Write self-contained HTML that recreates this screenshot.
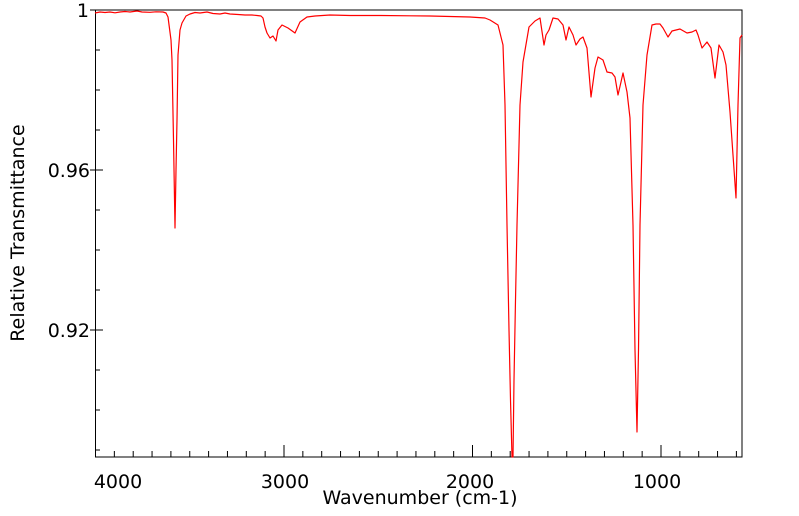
<!DOCTYPE html>
<html><head><meta charset="utf-8"><style>
html,body{margin:0;padding:0;background:#fff;}
svg{display:block;font-family:"DejaVu Sans","Liberation Sans",sans-serif;}
</style></head><body>
<svg width="799" height="516" viewBox="0 0 799 516" xmlns="http://www.w3.org/2000/svg">
<rect x="95.5" y="10" width="646.5" height="447" fill="none" stroke="#000" stroke-width="1"/>
<g stroke="#000" stroke-width="1">
<line x1="90" y1="10" x2="103" y2="10"/>
<line x1="90" y1="170" x2="103" y2="170"/>
<line x1="90" y1="330" x2="103" y2="330"/>
<line x1="95" y1="50" x2="100" y2="50"/><line x1="95" y1="90" x2="100" y2="90"/><line x1="95" y1="130" x2="100" y2="130"/>
<line x1="95" y1="210" x2="100" y2="210"/><line x1="95" y1="250" x2="100" y2="250"/><line x1="95" y1="290" x2="100" y2="290"/>
<line x1="95" y1="370" x2="100" y2="370"/><line x1="95" y1="410" x2="100" y2="410"/><line x1="95" y1="450" x2="100" y2="450"/>
<path d="M95.5 457v-12 M114.35 457v-6 M133.2 457v-6 M152.05 457v-6 M170.9 457v-6 M189.75 457v-6 M208.6 457v-6 M227.45 457v-6 M246.3 457v-6 M265.15 457v-6 M284 457v-12 M302.85 457v-6 M321.7 457v-6 M340.55 457v-6 M359.4 457v-6 M378.25 457v-6 M397.1 457v-6 M415.95 457v-6 M434.8 457v-6 M453.65 457v-6 M472.5 457v-12 M491.35 457v-6 M510.2 457v-6 M529.05 457v-6 M547.9 457v-6 M566.75 457v-6 M585.6 457v-6 M604.45 457v-6 M623.3 457v-6 M642.15 457v-6 M661 457v-12 M679.85 457v-6 M698.7 457v-6 M717.55 457v-6 M736.4 457v-6"/>
</g>
<text x="89" y="17" font-size="19" text-anchor="end">1</text>
<text x="90" y="177" font-size="19" text-anchor="end">0.96</text>
<text x="90" y="337" font-size="19" text-anchor="end">0.92</text>
<text x="118" y="488" font-size="19" text-anchor="middle">4000</text>
<text x="285" y="488" font-size="19" text-anchor="middle">3000</text>
<text x="470" y="488" font-size="19" text-anchor="middle">2000</text>
<text x="657" y="488" font-size="19" text-anchor="middle">1000</text>
<text x="420" y="504" font-size="19" text-anchor="middle">Wavenumber (cm-1)</text>
<text transform="translate(24,233) rotate(-90)" font-size="19" text-anchor="middle">Relative Transmittance</text>
<polyline fill="none" stroke="#ff0000" stroke-width="1.2" stroke-linejoin="round" points="
95,13 100,12 105,12.5 110,12 115,12.8 120,12 125,11.5 130,12 137,11 142,12 150,12.3 156,11.8 163,12 166,13 168,17 171,40 172,60 173.5,140 175,228 176,170 177,120 178,55 180,30 182,23 186,16 190,14 195,12.5 200,13 207,12 213,13.5 220,14 225,13 230,14 238,14.5 245,15 252,15 257,15.5 261,16 263,18 265,27 267,33 270,38 273,36 276,41 278,30 282,25 288,28 295,33 300,22 307,17 315,16 330,15 350,15.5 380,15.5 410,15.8 430,16 450,16.5 470,17 485,18 490,20 498,25 503,45 505,105 507,225 509,330 510.5,400 512,457 513,457 514,380 515.5,300 517,225 520,105 523,62 529,27 535,21 540,18 544,45 546,35 549,30 553,18 558,19 563,25 566,40 569,27 573,35 576,45 580,39 583,37 587,48 591,97 595,68 598,57 603,60 607,72 612,73 615,77 618,95 621,82 623,73 627,92 630,118 633,225 635,350 637,432 638.5,350 640,225 643,105 647,55 652,25 656,24 660,24 663,28 668,37 672,31 680,29 687,33 692,32 696,30 698,35 702,48 707,42 711,48 715,78 719,45 723,52 726,65 730,112 733,155 736,198 738,105 740,38 742,35"/>
</svg>
</body></html>
